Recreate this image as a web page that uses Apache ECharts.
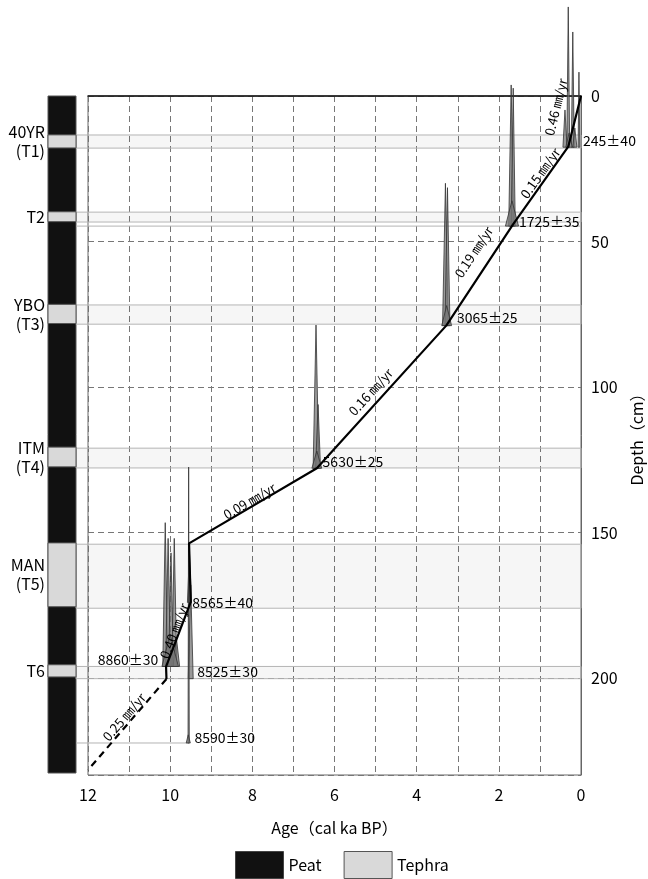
<!DOCTYPE html>
<html>
<head>
<meta charset="utf-8">
<script src="https://cdn.jsdelivr.net/npm/echarts@6/dist/echarts.min.js"></script>
<style>
  html, body { margin: 0; padding: 0; background: #fff; }
  #box { width: 648px; height: 879px; }
</style>
</head>
<body>
<div id="box"></div>
<script>
// age-depth model (age in cal ka BP, depth in cm)
var modelAge   = [0, 0.31, 1.65, 3.28, 6.43, 9.54, 9.50, 10.10, 10.09, 12.0];
var modelDepth = [0, 17.4, 44.0, 78.9, 127.9, 153.7, 173.9, 196.1, 200.3, 231.6];
var dashedFrom = 8; // last segment is extrapolated

// accumulation rates written along the segments
var rateText  = ['0.46 ㎜/yr', '0.15 ㎜/yr', '0.19 ㎜/yr', '0.16 ㎜/yr', '0.09 ㎜/yr', '0.40 ㎜/yr', '0.25 ㎜/yr'];
var rateAge   = [0.61, 0.99, 2.61, 5.12, 8.07, 9.90, 11.12];
var rateDepth = [3.8, 26.5, 53.6, 101.7, 139.2, 183.8, 213.4];
var rateSeg   = [[0, 1], [1, 2], [2, 3], [3, 4], [4, 5], [6, 7], [8, 9]];

// radiocarbon dates
var dateText  = ['245±40', '1725±35', '3065±25', '5630±25', '8565±40', '8860±30', '8525±30', '8590±30'];
var dateAge   = [-0.05, 1.51, 3.02, 6.29, 9.46, 10.29, 9.34, 9.41];
var dateDepth = [15.5, 43.3, 76.3, 125.8, 174.2, 193.8, 197.9, 220.6];
var dateSide  = ['right', 'right', 'right', 'right', 'right', 'left', 'right', 'right'];

// tephra layers
var tephraName   = ['40YR\n(T1)', 'T2', 'YBO\n(T3)', 'ITM\n(T4)', 'MAN\n(T5)', 'T6'];
var tephraTop    = [13.4, 39.9, 71.8, 121.0, 154.0, 196.0];
var tephraBottom = [17.9, 43.3, 78.4, 127.8, 176.0, 200.2];

// extra date levels
var levelDepth  = [44.7, 222.3];
var levelEndAge = [0, 9.55];

// calibrated age probability peaks
var peakAge   = [0.39, 0.31, 0.20, 0.05, 0.29, 0.15,
                 1.70, 1.65, 1.68,
                 3.30, 3.25, 3.27,
                 6.45, 6.40, 6.43,
                 10.12, 10.05, 9.98, 9.90, 9.85, 10.00,
                 9.53, 9.50, 9.55, 9.56];
var peakTop   = [4.8, -30.6, -22.0, -8.2, 12.7, 11.0,
                 -3.8, -2.7, 36.0,
                 30.0, 31.5, 72.0,
                 78.7, 106.0, 122.0,
                 146.6, 152.0, 157.0, 152.0, 186.0, 185.0,
                 157.0, 168.0, 127.5, 219.5];
var peakBase  = [17.6, 17.6, 17.6, 17.6, 17.6, 17.6,
                 44.7, 44.7, 44.7,
                 78.9, 78.9, 78.9,
                 127.9, 127.9, 127.9,
                 196.0, 196.0, 196.0, 196.0, 196.0, 196.0,
                 174.0, 200.2, 222.3, 222.3];
var peakHalf  = [0.05, 0.035, 0.035, 0.02, 0.08, 0.05,
                 0.06, 0.05, 0.16,
                 0.07, 0.06, 0.12,
                 0.07, 0.06, 0.12,
                 0.06, 0.06, 0.06, 0.06, 0.08, 0.2,
                 0.05, 0.06, 0.015, 0.05];

var ageTicks = [0, 2, 4, 6, 8, 10, 12];
var depthTicks = [0, 50, 100, 150, 200];
var depthMax = 233.3;

var font = '"Noto Sans CJK JP", sans-serif';
var myChart = echarts.init(document.getElementById('box'));

var solidLine = [], dashLine = [];
for (var i = 0; i < modelAge.length; i++) {
  if (i <= dashedFrom) solidLine.push([modelAge[i], modelDepth[i]]);
  if (i >= dashedFrom) dashLine.push([modelAge[i], modelDepth[i]]);
}

function renderBand(params, api) {
  var a = api.coord([12, api.value(0)]);
  var b = api.coord([0, api.value(1)]);
  return {
    type: 'rect',
    shape: { x: a[0] - 12, y: a[1], width: b[0] - a[0] + 12, height: b[1] - a[1] },
    style: { fill: 'rgba(0,0,0,0.035)', stroke: '#b4b4b4', lineWidth: 1 }
  };
}

function renderLevel(params, api) {
  var a = api.coord([12, api.value(0)]);
  var b = api.coord([api.value(1), api.value(0)]);
  return {
    type: 'line',
    shape: { x1: a[0] - 12, y1: a[1], x2: b[0], y2: b[1] },
    style: { stroke: '#b4b4b4', lineWidth: 1 }
  };
}

function renderPeak(params, api) {
  var age = api.value(0), top = api.value(1), base = api.value(2), hw = api.value(3);
  return {
    type: 'polygon',
    shape: { points: [api.coord([age + hw, base]), api.coord([age, top]), api.coord([age - hw, base])] },
    style: { fill: 'rgba(120,120,120,0.75)', stroke: '#333', lineWidth: 0.8 }
  };
}

function renderStrip(color, withText) {
  return function (params, api) {
    var a = api.coord([0, api.value(0)]);
    var b = api.coord([1, api.value(1)]);
    var children = [{
      type: 'rect',
      shape: { x: a[0], y: a[1], width: b[0] - a[0], height: b[1] - a[1] },
      style: { fill: color, stroke: '#555', lineWidth: 1 }
    }];
    if (withText) {
      children.push({
        type: 'text',
        style: {
          x: a[0] - 3, y: (a[1] + b[1]) / 2,
          text: tephraName[params.dataIndex],
          align: 'right', verticalAlign: 'middle',
          font: '16px ' + font, fill: '#000', lineHeight: 19
        }
      });
    }
    return { type: 'group', children: children };
  };
}

// plain text tied to a data point, drawn by a custom series
function textItem(getText, getAlign, getRotate, size) {
  return function (params, api) {
    var p = api.coord([api.value(0), api.value(1)]);
    return {
      type: 'text',
      x: p[0], y: p[1],
      rotation: getRotate(params.dataIndex) * Math.PI / 180,
      style: {
        x: 0, y: 0,
        text: getText(params.dataIndex),
        align: getAlign(params.dataIndex), verticalAlign: 'middle',
        font: size + 'px ' + font, fill: '#000'
      }
    };
  };
}

var option = {
  animation: false,
  textStyle: { fontFamily: font },
  legend: {
    left: 230, top: 846,
    itemWidth: 48, itemHeight: 27, itemGap: 22,
    icon: 'rect',
    textStyle: { fontSize: 16, color: '#000', fontFamily: font },
    data: [
      { name: 'Peat', itemStyle: { color: '#111', borderColor: '#444', borderWidth: 1 } },
      { name: 'Tephra', itemStyle: { color: '#d9d9d9', borderColor: '#555', borderWidth: 1 } }
    ]
  },
  grid: [
    { left: 88, right: 67, top: 96, bottom: 104, show: true, borderColor: '#666', borderWidth: 1, outerBoundsMode: 'none', containLabel: false },
    { left: 48, width: 28, top: 96, bottom: 106, outerBoundsMode: 'none', containLabel: false }
  ],
  xAxis: [{
    type: 'value', gridIndex: 0, min: 0, max: 12, interval: 1, inverse: true,
    name: 'Age（cal ka BP）', nameLocation: 'middle', nameGap: 45,
    nameTextStyle: { fontSize: 16, color: '#000', fontFamily: font },
    axisLine: { show: true, lineStyle: { color: '#111', width: 1.5 } },
    axisTick: { show: false },
    axisLabel: {
      fontSize: 16, color: '#000', margin: 12, fontFamily: font,
      formatter: function (v) { return ageTicks.indexOf(v) >= 0 ? String(v) : ''; }
    },
    splitLine: { show: true, lineStyle: { color: '#777', type: [6, 4], width: 1 } }
  }, {
    type: 'value', gridIndex: 1, min: 0, max: 1, show: false
  }],
  yAxis: [{
    type: 'value', gridIndex: 0, min: 0, max: depthMax, interval: 50, inverse: true,
    position: 'right',
    name: 'Depth（cm）', nameLocation: 'middle', nameGap: 46, nameRotate: 90,
    nameTextStyle: { fontSize: 16, color: '#000', fontFamily: font },
    axisLine: { show: true, lineStyle: { color: '#666', width: 1 } },
    axisTick: { show: false },
    axisLabel: {
      fontSize: 16, color: '#000', margin: 10, fontFamily: font,
      formatter: function (v) { return depthTicks.indexOf(v) >= 0 ? String(v) : ''; }
    },
    splitLine: { show: true, lineStyle: { color: '#777', type: [6, 4], width: 1 } }
  }, {
    type: 'value', gridIndex: 1, min: 0, max: depthMax, inverse: true, show: false
  }],
  series: [
    {
      name: 'Peat', type: 'custom', xAxisIndex: 1, yAxisIndex: 1, z: 1,
      itemStyle: { color: '#111' },
      renderItem: renderStrip('#111', false),
      data: [[0, depthMax]]
    },
    {
      name: 'Tephra', type: 'custom', xAxisIndex: 1, yAxisIndex: 1, z: 2,
      itemStyle: { color: '#d9d9d9' },
      renderItem: renderStrip('#d9d9d9', true),
      data: tephraTop.map(function (t, i) { return [t, tephraBottom[i]]; })
    },
    {
      name: 'bands', type: 'custom', z: 1, clip: false,
      renderItem: renderBand,
      data: tephraTop.map(function (t, i) { return [t, tephraBottom[i]]; })
    },
    {
      name: 'levels', type: 'custom', z: 1, clip: false,
      renderItem: renderLevel,
      data: levelDepth.map(function (d, i) { return [d, levelEndAge[i]]; })
    },
    {
      name: 'peaks', type: 'custom', z: 3, clip: false,
      renderItem: renderPeak,
      data: peakAge.map(function (a, i) { return [a, peakTop[i], peakBase[i], peakHalf[i]]; })
    },
    {
      name: 'model', type: 'line', z: 5, symbol: 'none',
      lineStyle: { color: '#000', width: 2.2 },
      data: solidLine
    },
    {
      name: 'extrapolated', type: 'line', z: 5, symbol: 'none',
      lineStyle: { color: '#000', width: 2.2, type: [7, 5] },
      data: dashLine
    },
    {
      name: 'dates', type: 'custom', z: 6, clip: false,
      renderItem: textItem(
        function (i) { return dateText[i]; },
        function (i) { return dateSide[i] === 'left' ? 'right' : 'left'; },
        function () { return 0; }, 14),
      data: dateAge.map(function (a, i) { return [a, dateDepth[i]]; })
    }
  ]
};

myChart.setOption(option);

// rotate the rate labels along their segments
var rateAngle = rateSeg.map(function (s) {
  var p1 = myChart.convertToPixel({ xAxisIndex: 0, yAxisIndex: 0 }, [modelAge[s[0]], modelDepth[s[0]]]);
  var p2 = myChart.convertToPixel({ xAxisIndex: 0, yAxisIndex: 0 }, [modelAge[s[1]], modelDepth[s[1]]]);
  var l = p1[0] < p2[0] ? p1 : p2, r = p1[0] < p2[0] ? p2 : p1;
  return Math.atan2(l[1] - r[1], r[0] - l[0]) * 180 / Math.PI;
});

option.series.push({
  name: 'rates', type: 'custom', z: 6, clip: false,
  renderItem: textItem(
    function (i) { return rateText[i]; },
    function () { return 'center'; },
    function (i) { return rateAngle[i]; }, 13),
  data: rateAge.map(function (a, i) { return [a, rateDepth[i]]; })
});
myChart.setOption(option);
</script>
</body>
</html>
